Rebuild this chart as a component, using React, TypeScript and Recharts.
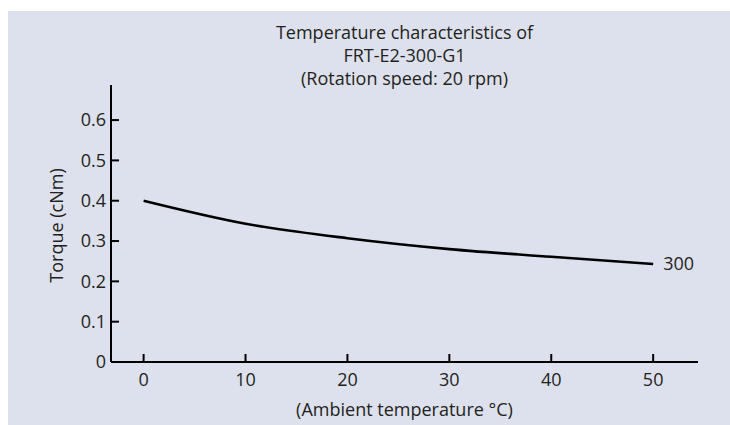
import React from "react";
import { LineChart, Line, XAxis, YAxis, Label, LabelList } from "recharts";

const temperatures = [0, 10, 20, 30, 40, 50];
const torque300 = [0.4, 0.343, 0.307, 0.28, 0.261, 0.243];
const xTicks = [0, 10, 20, 30, 40, 50];
const yTicks = [0, 0.1, 0.2, 0.3, 0.4, 0.5, 0.6];
const yTickLabels = ["0", "0.1", "0.2", "0.3", "0.4", "0.5", "0.6"];
const titleLines = [
  "Temperature characteristics of",
  "FRT-E2-300-G1",
  "(Rotation speed: 20 rpm)",
];
const seriesName = "300";

const data = temperatures.map((t, i) => ({ temp: t, torque: torque300[i] }));

const FONT = "'Open Sans', 'Noto Sans', sans-serif";
const TEXT = "#231f20";
const FS = 18;

const XTick = (props: any) => {
  const { x, y, payload } = props;
  const axisY = y - 11;
  return (
    <g>
      <line x1={x} x2={x} y1={axisY} y2={axisY - 8} stroke="#000" strokeWidth={2} />
      <text x={x} y={y} dy="0.71em" textAnchor="middle" fill={TEXT} fontSize={FS} fontFamily={FONT}>
        {payload.value}
      </text>
    </g>
  );
};

const YTick = (props: any) => {
  const { x, y, payload, index } = props;
  const axisX = x + 5;
  return (
    <g>
      <line x1={axisX} x2={axisX + 8} y1={y} y2={y} stroke="#000" strokeWidth={2} />
      <text x={x} y={y} dy="0.355em" textAnchor="end" fill={TEXT} fontSize={FS} fontFamily={FONT}>
        {yTickLabels[index] ?? payload.value}
      </text>
    </g>
  );
};

const EndLabel = (props: any) => {
  const { x, y, index } = props;
  if (index !== data.length - 1) return null;
  return (
    <text x={x + 10} y={y} dy="0.355em" textAnchor="start" fill={TEXT} fontSize={FS} fontFamily={FONT}>
      {seriesName}
    </text>
  );
};

export default function App() {
  return (
    <div
      style={{
        position: "fixed",
        left: 8,
        top: 11,
        width: 760,
        height: 440,
        background: "#dde1ed",
        fontFamily: FONT,
      }}
    >
      <div
        style={{
          position: "absolute",
          left: 103,
          width: 587,
          top: 10,
          textAlign: "center",
          color: TEXT,
          fontSize: FS,
          lineHeight: "23px",
        }}
      >
        {titleLines.map((l) => (
          <div key={l}>{l}</div>
        ))}
      </div>
      <LineChart
        width={722}
        height={414}
        data={data}
        margin={{ top: 74, right: 32, left: 0, bottom: 0 }}
        style={{ position: "absolute", left: 0, top: 0 }}
      >
        <XAxis
          dataKey="temp"
          type="number"
          domain={[-3.2, 54.4]}
          ticks={xTicks}
          allowDataOverflow
          height={63}
          axisLine={{ stroke: "#000", strokeWidth: 2 }}
          tickLine={false}
          tickSize={0}
          tickMargin={11}
          tick={<XTick />}
          interval={0}
        >
          <Label
            value="(Ambient temperature °C)"
            position="center"
            dy={16}
            fill={TEXT}
            fontSize={FS}
            fontFamily={FONT}
          />
        </XAxis>
        <YAxis
          type="number"
          domain={[0, 0.687]}
          ticks={yTicks}
          allowDataOverflow
          width={103}
          axisLine={{ stroke: "#000", strokeWidth: 2 }}
          tickLine={false}
          tickSize={0}
          tickMargin={5}
          tick={<YTick />}
          interval={0}
        >
          <Label
            value="Torque (cNm)"
            angle={-90}
            position="center"
            dx={-3}
            dy={2}
            fill={TEXT}
            fontSize={FS}
            fontFamily={FONT}
          />
        </YAxis>
        <Line
          type="monotone"
          dataKey="torque"
          stroke="#000"
          strokeWidth={2.6}
          dot={false}
          activeDot={false}
          isAnimationActive={false}
        >
          <LabelList dataKey="torque" content={<EndLabel />} />
        </Line>
      </LineChart>
    </div>
  );
}
